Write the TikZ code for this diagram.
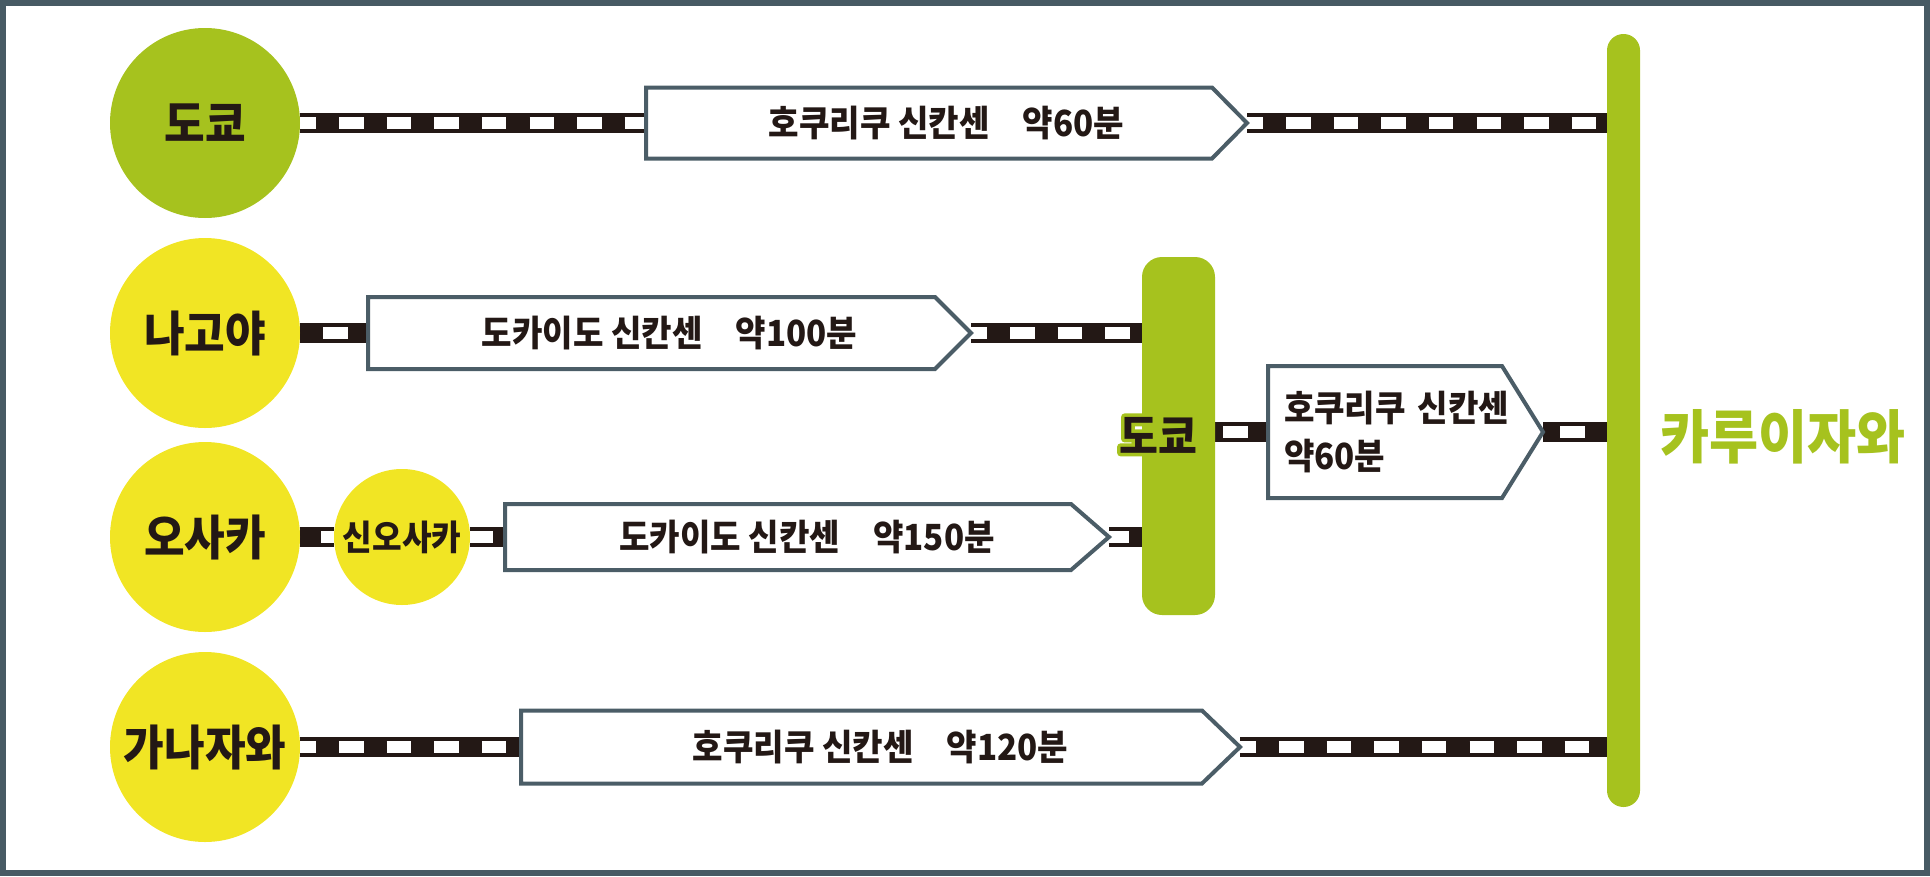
\documentclass[tikz,border=0pt]{standalone}
\usepackage{fontspec}
\newfontfamily\kr[FakeStretch=0.92]{Noto Sans CJK KR}
\usetikzlibrary{backgrounds}
\definecolor{ink}{HTML}{231815}
\definecolor{leaf}{HTML}{A6C21E}
\definecolor{lemon}{HTML}{F1E524}
\definecolor{framecol}{HTML}{475A64}
\definecolor{edgecol}{HTML}{4B5D67}
\newcommand{\halotext}[1]{\leavevmode\rlap{\textcolor{leaf}{\special{pdf:literal direct 1 Tr 7 w 1 j}#1\special{pdf:literal direct 0 Tr 1 w 0 j}}}#1}
\newcommand{\pent}[2]{\draw[boxline] (#1.north west) -- ([xshift=-#2]#1.north east) -- (#1.east) -- ([xshift=-#2]#1.south east) -- (#1.south west) -- cycle;}
\begin{document}
\begin{tikzpicture}[x=1pt,y=-1pt,
  city/.style={circle, fill=lemon, minimum size=190pt, inner sep=0pt, outer sep=0pt, text=ink,
    font=\kr\bfseries\fontsize{48}{48}\selectfont},
  smallcity/.style={circle, fill=lemon, minimum size=136pt, inner sep=0pt, outer sep=0pt, text=ink,
    font=\kr\bfseries\fontsize{35}{35}\selectfont},
  arrowbox/.style={rectangle, draw=none, inner sep=0pt, outer sep=0pt, text=ink,
    font=\kr\bfseries\fontsize{36}{48}\selectfont},
  boxline/.style={draw=edgecol, fill=white, line width=4pt, line join=miter},
  track/.style={draw=ink, line width=20pt,
    postaction={draw=white, line width=12pt, dash pattern=on 24.5pt off 23.1pt, dash phase=#1}},
  track/.default=8.5pt,
  bar/.style={rectangle, fill=leaf, inner sep=0pt, outer sep=0pt}
]
\useasboundingbox (0,0) rectangle (1930,876);

% stations on the left
\node[city, fill=leaf] (tokyo) at (205,123) {도쿄};
\node[city] (nagoya) at (205,333) {나고야};
\node[city] (osaka) at (205,537) {오사카};
\node[city] (kanazawa) at (205,747) {가나자와};
\node[smallcity] (shin) at (402,537) {신오사카};

% bars
\node[bar, rounded corners=20pt, minimum width=73pt, minimum height=358pt] (tbar) at (1178.5,436) {};
\node[bar, rounded corners=16.4pt, minimum width=33pt, minimum height=773pt] (karui) at (1623.5,420.5) {};
\node[text=ink, font=\kr\bfseries\fontsize{46}{46}\selectfont] (tlabel) at (1158,435) {\halotext{도쿄}};
\node[text=leaf, font=\kr\bfseries\fontsize{58}{58}\selectfont] (klabel) at (1783,437) {카루이자와};

% line boxes
\node[arrowbox, minimum width=601pt, minimum height=71pt] (b1) at (946.5,123) {호쿠리쿠 신칸센　약60분};
\node[arrowbox, minimum width=603pt, minimum height=72pt] (b2) at (669.5,333) {도카이도 신칸센　약100분};
\node[arrowbox, minimum width=604pt, minimum height=66pt] (b3) at (807,537) {도카이도 신칸센　약150분};
\node[arrowbox, minimum width=275pt, minimum height=132pt, inner xsep=16pt, text width=243pt, align=left] (b4) at (1405.5,432) {호쿠리쿠 신칸센\\약60분};
\node[arrowbox, minimum width=719pt, minimum height=73pt] (b5) at (880.5,747) {호쿠리쿠 신칸센　약120분};

\begin{scope}[on background layer]
  \draw[framecol, line width=6pt] (3,3) rectangle (1927,873);
  \draw[track=8.5pt] (tokyo.east) -- (b1.west);
  \draw[track=8.5pt] (b1.east) -- (b1.east -| karui.west);
  \draw[track=24.6pt] (nagoya.east) -- (b2.west);
  \draw[track=8.5pt] (b2.east) -- (b2.east -| tbar.west);
  \draw[track=26.6pt] (osaka.east) -- (shin.west);
  \draw[track=1.5pt] (shin.east) -- (b3.west);
  \draw[track=5pt] (b3.east) -- (b3.east -| tbar.west);
  \draw[track=39.6pt] (b4.west -| tbar.east) -- (b4.west);
  \draw[track=30.6pt] (b4.east) -- (b4.east -| karui.west);
  \draw[track=8.5pt] (kanazawa.east) -- (b5.west);
  \draw[track=8.5pt] (b5.east) -- (b5.east -| karui.west);
  \pent{b1}{35pt}
  \pent{b2}{36pt}
  \pent{b3}{38pt}
  \pent{b4}{41pt}
  \pent{b5}{38pt}
\end{scope}
\end{tikzpicture}
\end{document}
